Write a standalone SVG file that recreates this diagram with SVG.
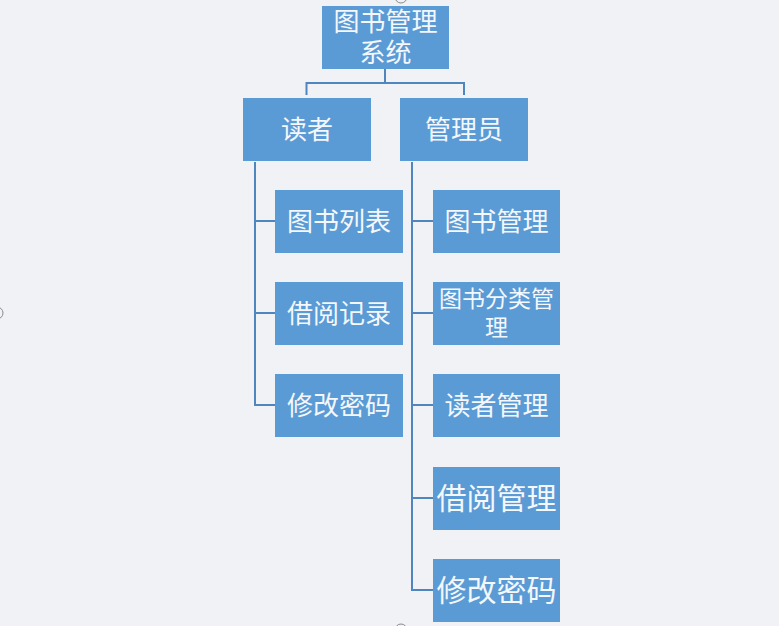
<svg xmlns="http://www.w3.org/2000/svg" width="779" height="626" viewBox="0 0 779 626">
<style>
.box{fill:#5B9BD5;}
.t{font-family:"Noto Sans CJK SC","Noto Sans",sans-serif;fill:#F4F7FB;text-anchor:middle;dominant-baseline:central;}
.ln{fill:none;stroke:#4F86C0;stroke-width:2;}
.h{fill:#F0F2F6;stroke:#8A8A8A;stroke-width:1;}
</style>
<rect x="0" y="0" width="779" height="626" fill="#F0F2F6"/>
<g id="connectors">
<path class="ln" d="M385,69 V83 M306.5,95 V83 H464 V95"/>
<path class="ln" d="M255,162 V405 H275 M255,221 H275 M255,313 H275"/>
<path class="ln" d="M412,162 V590 H433 M412,221 H433 M412,313 H433 M412,405 H433 M412,498 H433"/>
</g>
<g id="root"><rect class="box" x="322" y="6" width="127" height="63"/><text class="t" font-size="26"><tspan x="385.5" y="19">图书管理</tspan><tspan x="385.5" y="50">系统</tspan></text></g>
<g id="reader"><rect class="box" x="243" y="98" width="128" height="63"/><text class="t" x="307" y="127.5" font-size="26">读者</text></g>
<g id="admin"><rect class="box" x="400" y="98" width="128" height="63"/><text class="t" x="464" y="127.5" font-size="26">管理员</text></g>
<g id="r1"><rect class="box" x="275" y="190" width="128" height="63"/><text class="t" x="339" y="219" font-size="26">图书列表</text></g>
<g id="r2"><rect class="box" x="275" y="282" width="128" height="63"/><text class="t" x="339" y="311" font-size="26">借阅记录</text></g>
<g id="r3"><rect class="box" x="275" y="374" width="128" height="63"/><text class="t" x="339" y="403" font-size="26">修改密码</text></g>
<g id="a1"><rect class="box" x="433" y="190" width="127" height="63"/><text class="t" x="496.5" y="219" font-size="26">图书管理</text></g>
<g id="a2"><rect class="box" x="433" y="282" width="127" height="63"/><text class="t" font-size="23"><tspan x="496.5" y="297">图书分类管</tspan><tspan x="496.5" y="325.5">理</tspan></text></g>
<g id="a3"><rect class="box" x="433" y="374" width="127" height="63"/><text class="t" x="496.5" y="403" font-size="26">读者管理</text></g>
<g id="a4"><rect class="box" x="433" y="467" width="127" height="63"/><text class="t" x="496.5" y="495.5" font-size="30">借阅管理</text></g>
<g id="a5"><rect class="box" x="433" y="559" width="127" height="63"/><text class="t" x="496.5" y="587.5" font-size="30">修改密码</text></g>
<g id="handles">
<circle class="h" cx="401" cy="-3" r="6"/>
<circle class="h" cx="-3" cy="313" r="6"/>
<circle class="h" cx="401" cy="630" r="6"/>
</g>
</svg>
